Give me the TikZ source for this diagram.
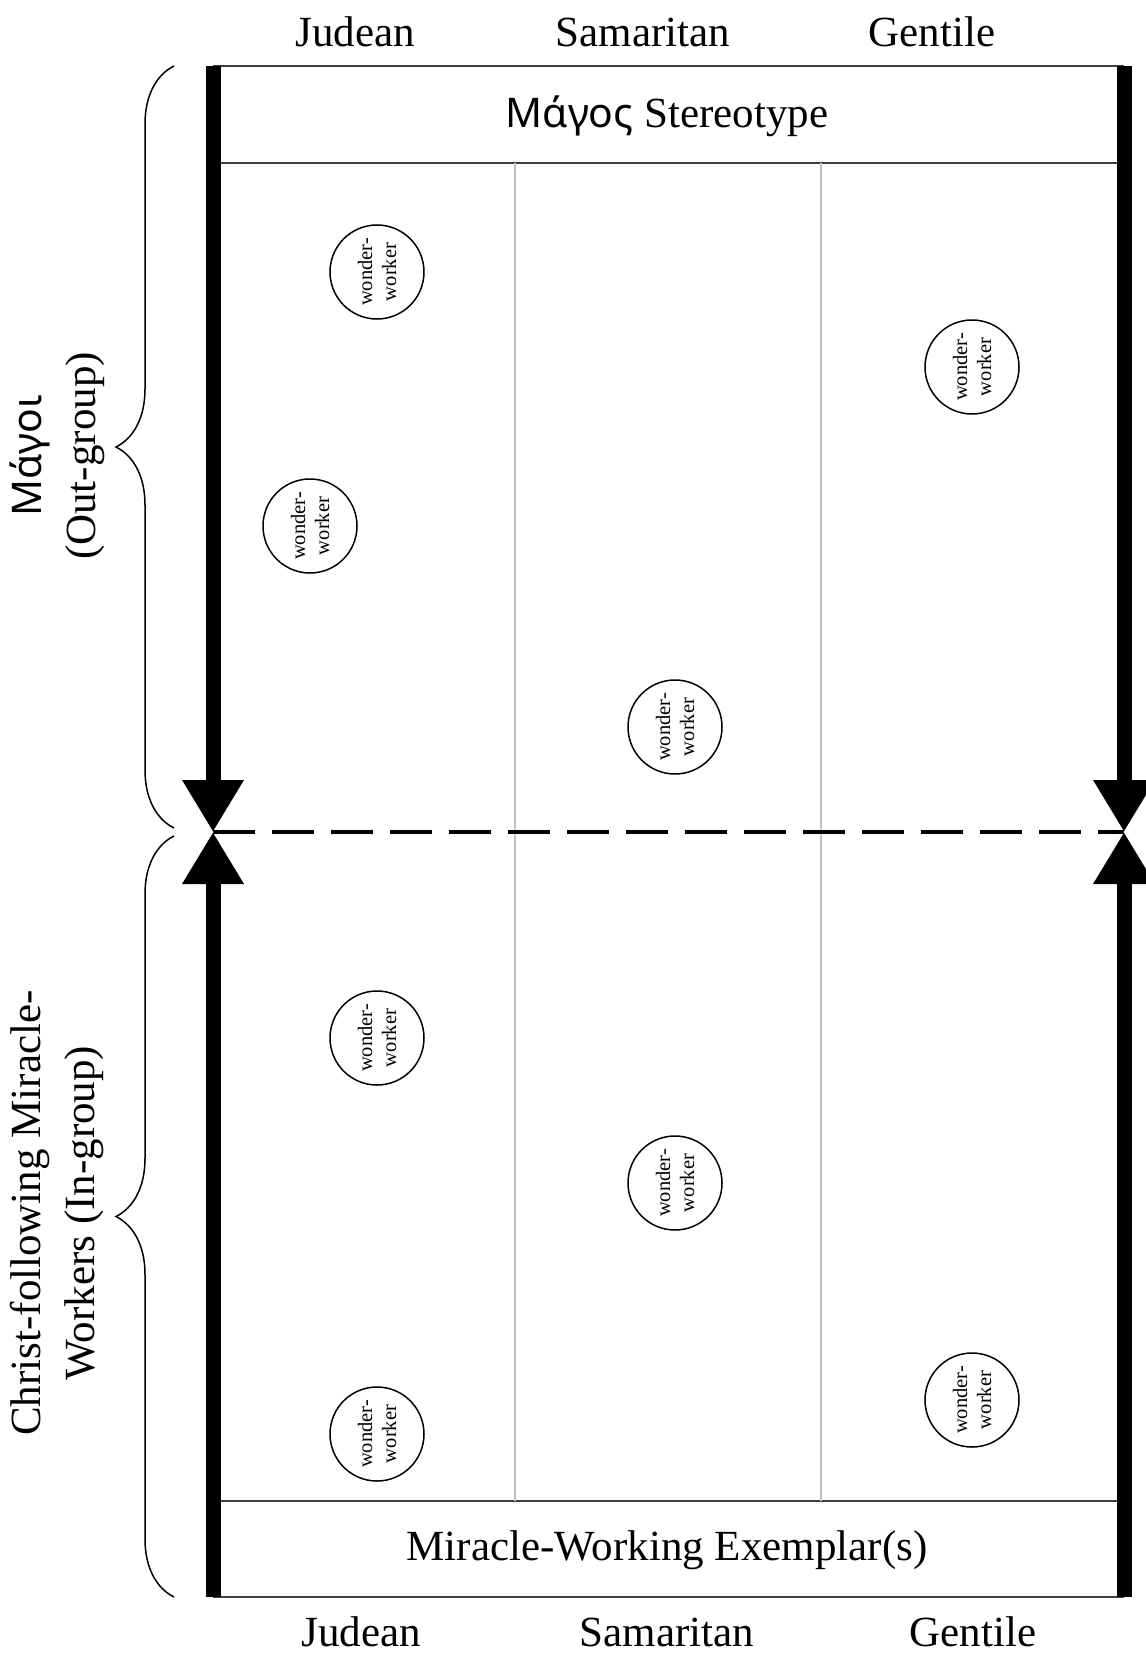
\documentclass[tikz,border=0pt]{standalone}
\usepackage{fontspec}
\setmainfont{Liberation Serif}
\newfontfamily\greekfont[Scale=0.95]{Noto Sans}
\usetikzlibrary{arrows.meta,decorations.pathreplacing}

\tikzset{
  wonder/.style={draw, circle, line width=1.5pt, minimum size=94pt, inner sep=0pt,
    align=center, rotate=90, font=\fontsize{20.5}{24}\selectfont},
  bigtext/.style={font=\fontsize{43}{54}\selectfont},
  bar/.style={line width=15pt, -{Triangle[width=58pt,length=52pt]}},
  rule/.style={line width=2pt, black!75},
  colsep/.style={line width=1.5pt, black!25},
  grpbrace/.style={decorate, decoration={brace, amplitude=58pt}, line width=1.5pt},
}

\begin{document}
\begin{tikzpicture}[x=1pt, y=-1pt]
		\useasboundingbox (0,0) rectangle (1145,1653);
		\coordinate (TL) at (213,66);
		\coordinate (TR) at (1124,66);
		\coordinate (BL) at (213,1597);
		\coordinate (BR) at (1124,1597);
		\coordinate (ML) at (213,832);
		\coordinate (MR) at (1124,832);
		% frame lines
		\draw[rule] (TL) -- (TR);
		\draw[rule] (213,163) -- (1124,163);
		\draw[rule] (213,1501) -- (1124,1501);
		\draw[rule] (BL) -- (BR);
		\foreach \x in {515,821}
			\draw[colsep] (\x,163) -- (\x,1501);
		% thick bars meeting at the divide
		\draw[bar] (TL) -- (ML);
		\draw[bar] (BL) -- (ML);
		\draw[bar] (TR) -- (MR);
		\draw[bar] (BR) -- (MR);
		\draw[line width=4pt, dash pattern=on 42pt off 17pt] (ML) -- (MR);
		% column heads
		\node[bigtext] (jtop) at (355,32) {Judean};
		\node[bigtext] (stop) at (643,32) {Samaritan};
		\node[bigtext] (gtop) at (932,32) {Gentile};
		\node[bigtext] (jbot) at (361,1632) {Judean};
		\node[bigtext] (sbot) at (667,1632) {Samaritan};
		\node[bigtext] (gbot) at (973,1632) {Gentile};
		\node[bigtext] (stereo) at (667,116) {{\greekfont Μάγος} Stereotype};
		\node[bigtext] (exemplar) at (667,1550) {Miracle-Working Exemplar(s)};
		% wonder-workers
		\foreach \n/\x/\y in {w1/377/272, w2/972/367, w3/310/526, w4/675/727,
			w5/377/1038, w6/675/1183, w7/972/1400, w8/377/1434}
			\node[wonder] (\n) at (\x,\y) {wonder-\\worker};
		% groups
		\draw[grpbrace] (174,828) -- (174,66);
		\draw[grpbrace] (174,1597) -- (174,836);
		\node[bigtext, rotate=90, align=center] (outgrp) at (57,456) {{\greekfont Μάγοι}\\(Out-group)};
		\node[bigtext, rotate=90, align=center] (ingrp) at (57,1213) {Christ-following Miracle-\\Workers (In-group)};
\end{tikzpicture}
\end{document}
